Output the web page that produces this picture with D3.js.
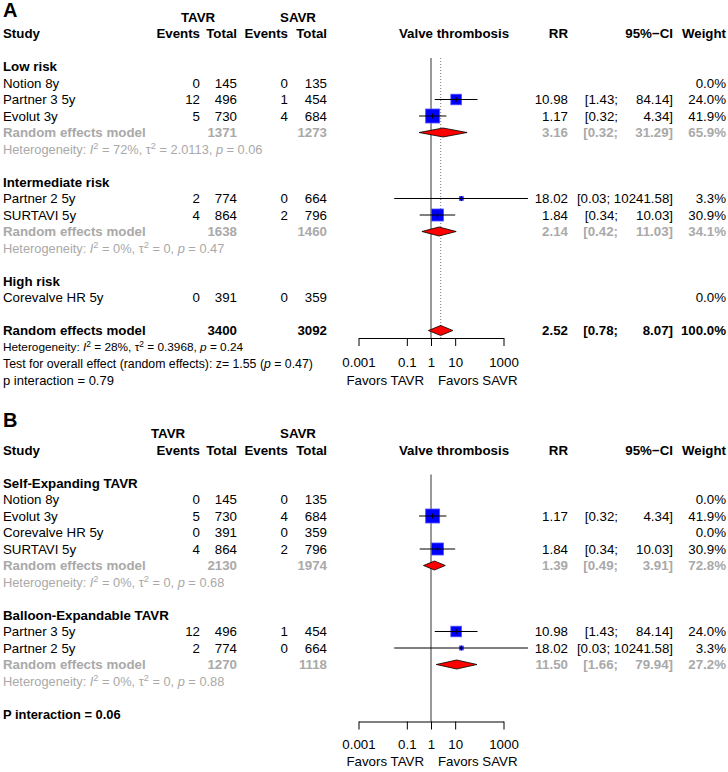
<!DOCTYPE html>
<html>
<head>
<meta charset="utf-8">
<script src="https://cdn.jsdelivr.net/npm/d3@7"></script>
<style>
  body { margin: 0; background: #fff; }
  text { font-family: "Liberation Sans", Arial, Helvetica, sans-serif; }
</style>
</head>
<body>
<svg id="chart" width="728" height="772"></svg>
<script>
// ---- data ----
const trialNames = ["Notion 8y", "Partner 3 5y", "Evolut 3y", "Partner 2 5y", "SURTAVI 5y", "Corevalve HR 5y"];
const tavrEvents = [0, 12, 5, 2, 4, 0];
const tavrTotal = [145, 496, 730, 774, 864, 391];
const savrEvents = [0, 1, 4, 0, 2, 0];
const savrTotal = [135, 454, 684, 664, 796, 359];
const trialRR = [null, 10.98, 1.17, 18.02, 1.84, null];
const trialLower = [null, 1.43, 0.32, 0.03, 0.34, null];
const trialUpper = [null, 84.14, 4.34, 10241.58, 10.03, null];
const trialWeight = [0.0, 24.0, 41.9, 3.3, 30.9, 0.0];

// panel A: by surgical risk
const riskGroups = ["Low risk", "Intermediate risk", "High risk"];
const riskMembers = [[0, 1, 2], [3, 4], [5]];
const riskPooledRR = [3.16, 2.14, null];
const riskPooledLower = [0.32, 0.42, null];
const riskPooledUpper = [31.29, 11.03, null];
const riskPooledWeight = [65.9, 34.1, null];
const riskTavrTotal = [1371, 1638, null];
const riskSavrTotal = [1273, 1460, null];
const riskHet = [["72%", "2.0113", "0.06"], ["0%", "0", "0.47"], null];

const overallRR = 2.52, overallLower = 0.78, overallUpper = 8.07;
const overallTotals = [3400, 3092];
const overallHet = ["28%", "0.3968", "0.24"];
const overallTest = ["1.55", "0.47"];
const riskInteraction = "0.79";

// panel B: by valve type
const valveGroups = ["Self-Expanding TAVR", "Balloon-Expandable TAVR"];
const valveMembers = [[0, 2, 5, 4], [1, 3]];
const valvePooledRR = [1.39, 11.50];
const valvePooledLower = [0.49, 1.66];
const valvePooledUpper = [3.91, 79.94];
const valvePooledWeight = [72.8, 27.2];
const valveTavrTotal = [2130, 1270];
const valveSavrTotal = [1974, 1118];
const valveHet = [["0%", "0", "0.68"], ["0%", "0", "0.88"]];
const valveInteraction = "0.06";

const axisTicks = [0.001, 0.1, 1, 10, 1000];

// ---- layout ----
const FS = 13.3;
const ROW = 16.5;
const GRAY = "#a9a9a9";
const col = { label: 3, tEv: 200, tTot: 237, sEv: 288, sTot: 327, rr: 568, lo: 618, hi: 673, w: 726, plot: 454 };

const svg = d3.select("#chart");
const x = d3.scaleLog().domain([0.001, 1000]).range([358.5, 503.5]);

const fmt2 = d3.format(".2f");
const fmtW = (w) => d3.format(".1f")(w) + "%";

function txt(g, xx, y, s, o = {}) {
  return g.append("text")
    .attr("x", xx).attr("y", y).attr("dy", "0.36em")
    .attr("text-anchor", o.anchor || "end")
    .attr("font-size", o.size || FS)
    .attr("font-weight", o.bold ? "bold" : "normal")
    .attr("fill", o.color || "#000")
    .text(s);
}

function hetText(g, y, het, o) {
  const t = g.append("text")
    .attr("x", col.label).attr("y", y).attr("dy", "0.36em")
    .attr("font-size", o.size).attr("fill", o.color);
  t.append("tspan").text("Heterogeneity: ");
  t.append("tspan").attr("font-style", "italic").text("I");
  t.append("tspan").attr("dy", -4.5).attr("font-size", o.size * 0.72).text("2");
  t.append("tspan").attr("dy", 4.5).text(` = ${het[0]}, \u03c4`);
  t.append("tspan").attr("dy", -4.5).attr("font-size", o.size * 0.72).text("2");
  t.append("tspan").attr("dy", 4.5).text(` = ${het[1]}, `);
  t.append("tspan").attr("font-style", "italic").text("p");
  t.append("tspan").text(` = ${het[2]}`);
  return t;
}

function ciText(g, y, lo, hi, o) {
  if (hi >= 10000) {
    txt(g, col.hi, y, `[${fmt2(lo)}; ${fmt2(hi)}]`, o);
  } else {
    txt(g, col.lo, y, `[${fmt2(lo)};`, o);
    txt(g, col.hi, y, `${fmt2(hi)}]`, o);
  }
}

function diamond(g, y, rr, lo, hi, h) {
  const pts = [[x(lo), y], [x(rr), y - h / 2], [x(hi), y], [x(rr), y + h / 2]];
  g.append("polygon")
    .attr("points", pts.map((p) => p.join(",")).join(" "))
    .attr("fill", "#ff0000").attr("stroke", "#000").attr("stroke-width", 0.8);
}

function studyRow(g, marks, y, i) {
  txt(g, col.label, y, trialNames[i], { anchor: "start" });
  txt(g, col.tEv, y, tavrEvents[i]);
  txt(g, col.tTot, y, tavrTotal[i]);
  txt(g, col.sEv, y, savrEvents[i]);
  txt(g, col.sTot, y, savrTotal[i]);
  txt(g, col.w, y, fmtW(trialWeight[i]));
  if (trialRR[i] == null) return;
  txt(g, col.rr, y, fmt2(trialRR[i]));
  ciText(g, y, trialLower[i], trialUpper[i], {});
  const side = 2.16 * Math.sqrt(trialWeight[i]);
  const cx = x(trialRR[i]);
  marks.append("rect")
    .attr("x", cx - side / 2).attr("y", y - side / 2)
    .attr("width", side).attr("height", side)
    .attr("fill", "#0000ff").attr("stroke", "#4d4dff").attr("stroke-width", 0.8);
  marks.append("line")
    .attr("x1", x(trialLower[i])).attr("x2", x(trialUpper[i]))
    .attr("y1", y).attr("y2", y).attr("stroke", "#000").attr("stroke-width", 1);
  marks.append("line")
    .attr("x1", cx).attr("x2", cx).attr("y1", y - 2.5).attr("y2", y + 2.5)
    .attr("stroke", "#000").attr("stroke-width", 1);
}

function drawPanel(p) {
  const g = svg.append("g");
  const rowY = (k) => p.top + k * ROW;

  g.append("text").attr("x", 3).attr("y", p.letterY)
    .attr("font-size", 20).attr("font-weight", "bold").text(p.letter);

  // headers
  txt(g, p.tavrX, rowY(-1), "TAVR", { bold: true, anchor: "middle" });
  txt(g, 298, rowY(-1), "SAVR", { bold: true, anchor: "middle" });
  txt(g, col.label, rowY(0), "Study", { bold: true, anchor: "start" });
  [[col.tEv, "Events"], [col.tTot, "Total"], [col.sEv, "Events"], [col.sTot, "Total"],
   [col.rr, "RR"], [col.hi, "95%\u2212CI"], [col.w, "Weight"]]
    .forEach(([xx, s]) => txt(g, xx, rowY(0), s, { bold: true }));
  txt(g, col.plot, rowY(0), "Valve thrombosis", { bold: true, anchor: "middle" });

  // reference lines sit behind the marks
  const refs = g.append("g");
  const marks = g.append("g");
  refs.append("line")
    .attr("x1", x(1)).attr("x2", x(1)).attr("y1", p.top + 24.5).attr("y2", p.axisY)
    .attr("stroke", "#333").attr("stroke-width", 1);
  if (p.overall) {
    refs.append("line")
      .attr("x1", x(overallRR)).attr("x2", x(overallRR)).attr("y1", p.top + 24.5).attr("y2", p.axisY)
      .attr("stroke", "#555").attr("stroke-width", 0.8).attr("stroke-dasharray", "1,2");
  }

  let k = 2;
  p.groups.forEach((name, gi) => {
    txt(g, col.label, rowY(k++), name, { bold: true, anchor: "start" });
    p.members[gi].forEach((i) => studyRow(g, marks, rowY(k++), i));
    if (p.pooledRR[gi] != null) {
      const y = rowY(k++);
      const o = { bold: true, color: GRAY };
      txt(g, col.label, y, "Random effects model", { ...o, anchor: "start" });
      txt(g, col.tTot, y, p.tavrTot[gi], o);
      txt(g, col.sTot, y, p.savrTot[gi], o);
      txt(g, col.rr, y, fmt2(p.pooledRR[gi]), o);
      ciText(g, y, p.pooledLo[gi], p.pooledHi[gi], o);
      txt(g, col.w, y, fmtW(p.pooledW[gi]), o);
      diamond(marks, y, p.pooledRR[gi], p.pooledLo[gi], p.pooledHi[gi], 9);
      hetText(g, rowY(k++), p.het[gi], { size: 12.8, color: GRAY });
    }
    k++;
  });

  if (p.overall) {
    const y = rowY(k++);
    const o = { bold: true };
    txt(g, col.label, y, "Random effects model", { ...o, anchor: "start" });
    txt(g, col.tTot, y, overallTotals[0], o);
    txt(g, col.sTot, y, overallTotals[1], o);
    txt(g, col.rr, y, fmt2(overallRR), o);
    ciText(g, y, overallLower, overallUpper, o);
    txt(g, col.w, y, "100.0%", o);
    diamond(marks, y, overallRR, overallLower, overallUpper, 10);
    hetText(g, rowY(k++), overallHet, { size: 11.8, color: "#000" });
    const t = g.append("text").attr("x", col.label).attr("y", rowY(k++)).attr("dy", "0.36em")
      .attr("font-size", 12.3);
    t.append("tspan").text(`Test for overall effect (random effects): z= ${overallTest[0]} (`);
    t.append("tspan").attr("font-style", "italic").text("p");
    t.append("tspan").text(` = ${overallTest[1]})`);
    txt(g, col.label, rowY(k++), `p interaction = ${riskInteraction}`, { anchor: "start", size: 13 });
  } else {
    txt(g, col.label, rowY(k++), `P interaction = ${valveInteraction}`, { anchor: "start", bold: true, size: 12.9 });
  }

  // x axis
  const ax = g.append("g").attr("transform", `translate(0,${p.axisY})`)
    .call(d3.axisBottom(x).tickValues(axisTicks).tickSize(8).tickSizeOuter(0).tickPadding(p.tickPad)
      .tickFormat((d) => String(d)));
  ax.attr("font-family", null).attr("font-size", null);
  ax.selectAll("path,line").attr("stroke", "#000");
  ax.selectAll("text").attr("font-size", FS).attr("fill", "#000");
  txt(g, x(1) - 7, p.axisY + p.favorsOff, "Favors TAVR", {});
  txt(g, x(1) + 7, p.axisY + p.favorsOff, "Favors SAVR", { anchor: "start" });
}

drawPanel({
  letter: "A", letterY: 17, top: 33.5, tavrX: 198, axisY: 338, overall: true, tickPad: 12, favorsOff: 42,
  groups: riskGroups, members: riskMembers,
  pooledRR: riskPooledRR, pooledLo: riskPooledLower, pooledHi: riskPooledUpper, pooledW: riskPooledWeight,
  tavrTot: riskTavrTotal, savrTot: riskSavrTotal, het: riskHet,
});

drawPanel({
  letter: "B", letterY: 427, top: 450, tavrX: 168, axisY: 721.5, overall: false, tickPad: 10.5, favorsOff: 39.5,
  groups: valveGroups, members: valveMembers,
  pooledRR: valvePooledRR, pooledLo: valvePooledLower, pooledHi: valvePooledUpper, pooledW: valvePooledWeight,
  tavrTot: valveTavrTotal, savrTot: valveSavrTotal, het: valveHet,
});
</script>
</body>
</html>
